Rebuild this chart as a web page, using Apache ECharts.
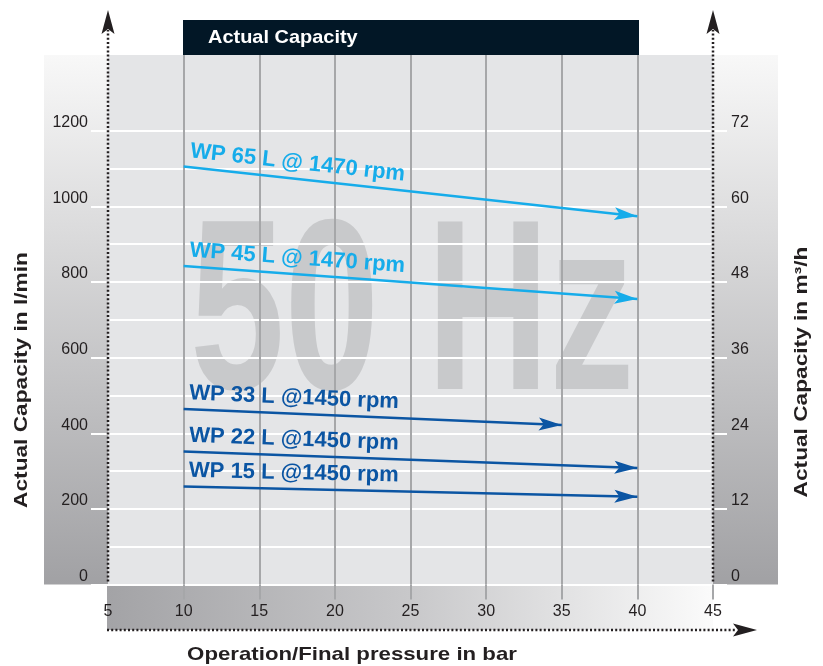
<!DOCTYPE html>
<html><head><meta charset="utf-8">
<script src="https://cdn.jsdelivr.net/npm/echarts@6/dist/echarts.min.js"></script>
<style>html,body{margin:0;padding:0;background:#fff}#c{width:823px;height:666px}</style>
</head><body><div id="c"></div>
<script>
// ---- data ----
const seriesNames = ['WP 65 L @ 1470 rpm', 'WP 45 L @ 1470 rpm', 'WP 33 L @1450 rpm', 'WP 22 L @1450 rpm', 'WP 15 L @1450 rpm'];
const startPressure = [10, 10, 10, 10, 10];
const endPressure = [40, 40, 35, 40, 40];
const startCapacity = [1105, 842, 464, 352, 259];
const endCapacity = [974, 755, 422, 308, 232];
const seriesColors = ['#16acea', '#16acea', '#0b55a3', '#0b55a3', '#0b55a3'];
const xTicks = [5, 10, 15, 20, 25, 30, 35, 40, 45];
const xGridValues = [10, 15, 20, 25, 30, 35, 40, 45];
const leftTicks = [0, 200, 400, 600, 800, 1000, 1200];
const rightTicks = [0, 12, 24, 36, 48, 60, 72];
const yMaxLeft = 1400;
const yMaxRight = 84;
const headerText = 'Actual Capacity';
const leftTitle = 'Actual Capacity in l/min';
const rightTitle = 'Actual Capacity in m³/h';
const bottomTitle = 'Operation/Final pressure in bar';
const watermark = '50 Hz';

const FONT = "'Liberation Sans', Arial, sans-serif";
const TXT = '#231f20';
const chart = echarts.init(document.getElementById('c'), null, {renderer: 'canvas'});

const arrowPath = 'path://M0,-23 M0,0 L6.5,23 L0,18 L-6.5,23 Z';

const minorColors = [];
for (let v = 0; v < yMaxLeft; v += 100) minorColors.push(v <= leftTicks[leftTicks.length - 1] ? '#ffffff' : 'rgba(0,0,0,0)');

const plain = v => String(v);

const option = {
  animation: false,
  textStyle: {fontFamily: FONT},
  grid: {left: 108, right: 110, top: 55, bottom: 81.4, show: false},
  xAxis: {
    type: 'value', min: xTicks[0], max: xTicks[xTicks.length - 1], interval: 5,
    axisLine: {show: false},
    axisTick: {show: true, length: 15, customValues: xGridValues, lineStyle: {color: '#a6a7a9', width: 2}},
    axisLabel: {margin: 19, fontSize: 16, color: TXT, fontFamily: FONT, customValues: xTicks, formatter: plain},
    splitLine: {show: true, showMinLine: true, showMaxLine: false, lineStyle: {color: '#a6a7a9', width: 2}}
  },
  yAxis: [
    {
      type: 'value', position: 'left', min: 0, max: yMaxLeft, interval: 200,
      axisLine: {show: false},
      axisTick: {show: true, length: 17, customValues: leftTicks, lineStyle: {color: '#ffffff', width: 2}},
      axisLabel: {margin: 20, fontSize: 16, color: TXT, verticalAlign: 'bottom', fontFamily: FONT, customValues: leftTicks, formatter: plain},
      splitLine: {show: false}
    },
    {
      type: 'value', position: 'right', min: 0, max: yMaxRight, interval: 12,
      axisLine: {show: false},
      axisTick: {show: true, length: 14, customValues: rightTicks, lineStyle: {color: '#ffffff', width: 2}},
      axisLabel: {margin: 18, fontSize: 16, color: TXT, verticalAlign: 'bottom', fontFamily: FONT, customValues: rightTicks, formatter: plain},
      splitLine: {show: false}
    },
    {
      type: 'value', position: 'left', min: 0, max: yMaxLeft, interval: 100,
      axisLine: {show: false}, axisTick: {show: false}, axisLabel: {show: false},
      splitLine: {show: true, showMaxLine: false, lineStyle: {color: minorColors, width: 2}}
    }
  ],
  series: seriesNames.map((n, i) => ({
    type: 'lines', coordinateSystem: 'cartesian2d', xAxisIndex: 0, yAxisIndex: 0, z: 5,
    symbol: ['none', arrowPath], symbolSize: [1, [13, 46]],
    lineStyle: {color: seriesColors[i], width: 2.5, opacity: 1, curveness: 0},
    label: {show: true, position: 'insideStartTop', formatter: '{b}', color: seriesColors[i],
            fontSize: 22, fontWeight: 'bold', fontFamily: FONT, distance: 5},
    data: [{name: n, coords: [[startPressure[i], startCapacity[i]], [endPressure[i], endCapacity[i]]]}]
  }))
};
chart.setOption(option);

const xL = chart.convertToPixel({xAxisIndex: 0}, xTicks[0]);
const xR = chart.convertToPixel({xAxisIndex: 0}, xTicks[xTicks.length - 1]);
const y0 = chart.convertToPixel({yAxisIndex: 0}, 0);
const yT = chart.convertToPixel({yAxisIndex: 0}, yMaxLeft);
const bandBottom = 630;
const dotted = {stroke: '#231f20', lineWidth: 2.5, lineDash: [2, 2.2]};

const vGrad = {type: 'linear', x: 0, y: 0, x2: 0, y2: 1, colorStops: [{offset: 0, color: '#f8f8f8'}, {offset: 1, color: '#a1a1a4'}]};

chart.setOption({
  graphic: [
    {type: 'rect', z: -10, shape: {x: xL, y: yT, width: xR - xL, height: y0 - yT}, style: {fill: '#e4e5e7'}},
    {type: 'rect', z: -10, shape: {x: 44, y: yT, width: xL - 44, height: y0 - yT}, style: {fill: vGrad}},
    {type: 'rect', z: -10, shape: {x: xR, y: yT, width: 65, height: y0 - yT}, style: {fill: vGrad}},
    {type: 'rect', z: -10, shape: {x: xL - 1, y: y0 + 1.5, width: xR - xL + 1, height: bandBottom - y0 - 1.5},
     style: {fill: {type: 'linear', x: 0, y: 0, x2: 1, y2: 0, colorStops: [{offset: 0, color: '#a3a3a6'}, {offset: 0.5, color: '#c8c8ca'}, {offset: 1, color: '#fbfbfb'}]}}},
    {type: 'text', z: -9, x: 190, y: 322, scaleX: 0.7, scaleY: 1,
     style: {text: watermark, x: 0, y: 0, fill: '#c8c9cb', font: 'bold 243px ' + FONT, textAlign: 'left', textVerticalAlign: 'middle'}},
    {type: 'rect', z: 10, shape: {x: 183, y: 20, width: 456, height: yT - 20}, style: {fill: '#021726'}},
    {type: 'text', z: 11, x: 208, y: 38, scaleX: 1.05,
     style: {text: headerText, fill: '#ffffff', font: 'bold 19px ' + FONT, textAlign: 'left', textVerticalAlign: 'middle'}},
    {type: 'line', z: 10, shape: {x1: xL, y1: y0 - 3, x2: xL, y2: 30}, style: dotted},
    {type: 'line', z: 10, shape: {x1: xR, y1: y0 - 3, x2: xR, y2: 30}, style: dotted},
    {type: 'line', z: 10, shape: {x1: xL - 1, y1: bandBottom, x2: 737, y2: bandBottom}, style: dotted},
    {type: 'polygon', z: 11, shape: {points: [[xL, 10], [xL + 6.5, 34], [xL, 29], [xL - 6.5, 34]]}, style: {fill: '#231f20'}},
    {type: 'polygon', z: 11, shape: {points: [[xR, 10], [xR + 6.5, 34], [xR, 29], [xR - 6.5, 34]]}, style: {fill: '#231f20'}},
    {type: 'polygon', z: 11, shape: {points: [[757, bandBottom], [733, bandBottom - 6.5], [738, bandBottom], [733, bandBottom + 6.5]]}, style: {fill: '#231f20'}},
    {type: 'text', z: 11, x: 22, y: 380, rotation: Math.PI / 2, scaleX: 1.26,
     style: {text: leftTitle, fill: TXT, font: 'bold 18px ' + FONT, textAlign: 'center', textVerticalAlign: 'middle'}},
    {type: 'text', z: 11, x: 802, y: 372, rotation: Math.PI / 2, scaleX: 1.26,
     style: {text: rightTitle, fill: TXT, font: 'bold 18px ' + FONT, textAlign: 'center', textVerticalAlign: 'middle'}},
    {type: 'text', z: 11, x: 352, y: 655, scaleX: 1.17,
     style: {text: bottomTitle, fill: TXT, font: 'bold 19px ' + FONT, textAlign: 'center', textVerticalAlign: 'middle'}}
  ]
});
</script></body></html>
